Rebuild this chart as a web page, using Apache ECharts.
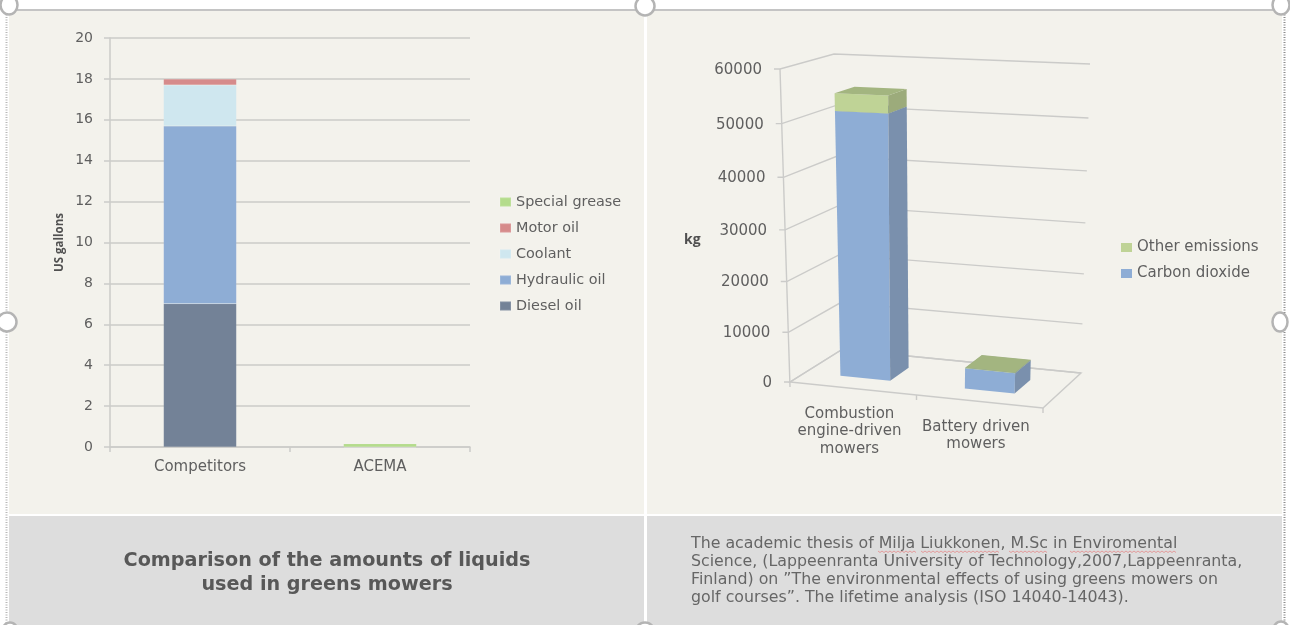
<!DOCTYPE html>
<html>
<head>
<meta charset="utf-8">
<script src="https://cdn.jsdelivr.net/npm/echarts@6/dist/echarts.min.js"></script>
<style>
html, body { margin: 0; padding: 0; background: #fff; }
#chart { width: 1290px; height: 625px; }
</style>
</head>
<body>
<div id="chart"></div>
<script>
// left chart data
const liquidCategories = ["Competitors", "ACEMA"];
const dieselOil = [7, 0];
const hydraulicOil = [8.7, 0];
const coolant = [2, 0];
const motorOil = [0.3, 0];
const specialGrease = [0, 0.16];

// right chart data
const mowerCategories = ["Combustion\nengine-driven\nmowers", "Battery driven\nmowers"];
const carbonDioxide = [51700, 4000];
const otherEmissions = [3300, 100];
const emissionTicks = [0, 10000, 20000, 30000, 40000, 50000, 60000];

const titleLines = "Comparison of the amounts of liquids\nused in greens mowers";
const sourceLines = "The academic thesis of Milja Liukkonen, M.Sc in Enviromental\n" +
    "Science, (Lappeenranta University of Technology,2007,Lappeenranta,\n" +
    "Finland) on \u201dThe environmental effects of using greens mowers on\n" +
    "golf courses\u201d. The lifetime analysis (ISO 14040-14043).";

const textColor = "#5f5f5f";
const gridColor = "#cbcbc9";
const labelFont = "DejaVu Sans";

// corners of the 3d box on the page, [front, back] x [left, right]
const box = {
    f0: [790, 382], f1: [1043, 408], b0: [842, 349.5], b1: [1081, 373],
    f0t: [780, 69], f1t: [1056, 80], b0t: [834, 54], b1t: [1090, 64]
};
const mix = (a, b, t) => [a[0] + (b[0] - a[0]) * t, a[1] + (b[1] - a[1]) * t];

// u across, d into the wall, f up the value axis (all 0..1)
const project = (u, d, f) => {
    const h = f / (1 + 0.058 * (1 - f));
    const low = mix(mix(box.f0, box.f1, u), mix(box.b0, box.b1, u), d);
    const high = mix(mix(box.f0t, box.f1t, u), mix(box.b0t, box.b1t, u), d);
    return mix(low, high, h);
};
// takes the pixel the cartesian axes give and lifts it into the box
const toBox = (params, api, cat, val, d, shiftU) => {
    const p = api.coord([cat, val]);
    const r = params.coordSys;
    return project((p[0] - r.x) / r.width + (shiftU || 0), d, (r.y + r.height - p[1]) / r.height);
};
const line = (points, width) => ({
    type: "polyline",
    shape: { points },
    style: { stroke: gridColor, lineWidth: width || 1.4, fill: null }
});

const renderWall = (params, api) => {
    const v = api.value(1);
    const a = toBox(params, api, 0, v, 0, -0.25);
    const b = toBox(params, api, 0, v, 1, -0.25);
    const c = toBox(params, api, 1, v, 1, 0.25);
    return {
        type: "group",
        children: [
            line([[a[0] - 6, a[1]], a, b, c]),
            {
                type: "text",
                style: {
                    text: String(v), x: a[0] - 18, y: a[1] + 1, align: "right", verticalAlign: "middle",
                    font: "15px " + labelFont, fill: textColor
                }
            }
        ]
    };
};

const renderFloor = (params, api) => {
    const f0 = toBox(params, api, 0, 0, 0, -0.25);
    const f1 = toBox(params, api, 1, 0, 0, 0.25);
    const b0 = toBox(params, api, 0, 0, 1, -0.25);
    const b1 = toBox(params, api, 1, 0, 1, 0.25);
    const top = toBox(params, api, 0, 60000, 0, -0.25);
    const mid = toBox(params, api, 0, 0, 0, 0.25);
    return {
        type: "group",
        children: [
            line([top, [f0[0], f0[1] + 5]]),
            line([b0, f0, f1, b1, b0]),
            line([mid, [mid[0], mid[1] + 5]]),
            line([f1, [f1[0], f1[1] + 5]])
        ]
    };
};

const renderMowerLabel = (params, api) => {
    const i = api.value(0);
    const p = toBox(params, api, i, 0, 0, -0.015);
    return {
        type: "text",
        style: {
            text: mowerCategories[i], x: p[0], y: p[1] + 17, align: "center", verticalAlign: "top",
            font: "15px " + labelFont, lineHeight: 17.5, fill: textColor
        }
    };
};

const polygon = (points, fill) => ({ type: "polygon", shape: { points }, style: { fill } });

const renderBlock = (front, side, top) => (params, api) => {
    const i = api.value(0);
    const from = api.value(1);
    const to = api.value(2);
    const half = 0.1, d0 = 0.3, d1 = 0.69, shift = -0.01;
    const at = (s, v, d) => toBox(params, api, i, v, d, shift + s * half);
    return {
        type: "group",
        children: [
            polygon([at(-1, from, d0), at(1, from, d0), at(1, to, d0), at(-1, to, d0)], front),
            polygon([at(1, from, d0), at(1, from, d1), at(1, to, d1), at(1, to, d0)], side),
            polygon([at(-1, to, d0), at(1, to, d0), at(1, to, d1), at(-1, to, d1)], top)
        ]
    };
};

const stackBar = (name, data, color) => ({
    name,
    type: "bar",
    stack: "liquids",
    barWidth: 73,
    data,
    itemStyle: { color, borderColor: "rgba(255,255,255,0.12)", borderWidth: 0.5 }
});

// little red spell-check waves under the text
const wave = (x0, x1, y) => {
    const points = [];
    for (let x = x0, n = 0; x <= x1; x += 2, n++) {
        points.push([x, y + (n % 2 ? 1.5 : 0)]);
    }
    return {
        type: "polyline",
        shape: { points },
        style: { stroke: "#e58a8a", lineWidth: 0.8, fill: null },
        z: 5
    };
};
// selection handles of the picture frame
const handle = (x, y, rx, ry) => ({
    type: "ellipse",
    shape: { cx: x, cy: y, rx, ry },
    style: { fill: "#fff", stroke: "#b4b4b4", lineWidth: 2.5 },
    z: 20
});
const dotted = (x, color) => ({
    type: "line",
    shape: { x1: x, y1: 12, x2: x, y2: 625 },
    style: { stroke: color, lineWidth: 2, lineDash: [1, 1.5] },
    z: 10
});
const panel = (x, y, width, height, fill) => ({
    type: "rect",
    shape: { x, y, width, height },
    style: { fill },
    z: -10
});

const chart = echarts.init(document.getElementById("chart"));
chart.setOption({
    animation: false,
    backgroundColor: "#fff",
    title: [
        {
            text: titleLines,
            left: 327,
            top: 549,
            padding: 0,
            textAlign: "center",
            textStyle: { fontFamily: labelFont, fontWeight: "bold", fontSize: 19.2, lineHeight: 24, color: "#585858" }
        },
        {
            text: sourceLines,
            left: 691,
            top: 535,
            padding: 0,
            textStyle: { fontFamily: labelFont, fontWeight: "normal", fontSize: 15.8, lineHeight: 18, color: "#666" }
        }
    ],
    legend: [
        {
            data: ["Special grease", "Motor oil", "Coolant", "Hydraulic oil", "Diesel oil"],
            orient: "vertical",
            left: 499,
            top: 195,
            padding: 0,
            itemWidth: 11,
            itemHeight: 9,
            itemGap: 12,
            icon: "rect",
            selectedMode: false,
            textStyle: { fontFamily: labelFont, fontSize: 14.4, color: textColor }
        },
        {
            data: ["Other emissions", "Carbon dioxide"],
            orient: "vertical",
            left: 1121,
            top: 240,
            padding: 0,
            itemWidth: 11,
            itemHeight: 9,
            itemGap: 11,
            icon: "rect",
            selectedMode: false,
            textStyle: { fontFamily: labelFont, fontSize: 15, color: textColor }
        }
    ],
    grid: [
        { left: 110, top: 38, width: 360, height: 409 },
        { left: 790, top: 69, width: 253, height: 313 }
    ],
    xAxis: [
        {
            type: "category",
            data: liquidCategories,
            axisLine: { lineStyle: { color: gridColor, width: 1.5 } },
            axisTick: { show: true, length: 5, lineStyle: { color: gridColor, width: 1.5 } },
            axisLabel: { fontFamily: labelFont, fontSize: 15, color: textColor, margin: 13 }
        },
        { type: "category", gridIndex: 1, data: mowerCategories, show: false }
    ],
    yAxis: [
        {
            type: "value",
            min: 0,
            max: 20,
            interval: 2,
            name: "US gallons",
            nameLocation: "middle",
            nameGap: 44,
            nameTextStyle: { fontFamily: "Open Sans", fontWeight: "bold", fontSize: 11.5, color: "#505050" },
            axisLine: { show: true, lineStyle: { color: gridColor, width: 1.5 } },
            axisTick: { show: true, length: 6, lineStyle: { color: gridColor, width: 1.5 } },
            splitLine: { lineStyle: { color: gridColor, width: 1.5 } },
            axisLabel: { fontFamily: labelFont, fontSize: 14, color: textColor, margin: 17 }
        },
        { type: "value", gridIndex: 1, min: 0, max: 60000, interval: 10000, show: false }
    ],
    graphic: [
        panel(0, 0, 1290, 625, "#fff"),
        panel(9, 11, 635, 503, "#f3f2ec"),
        panel(647, 11, 635, 503, "#f3f2ec"),
        panel(9, 516, 635, 109, "#dddddd"),
        panel(647, 516, 635, 109, "#dddddd"),
        panel(8, 9, 1275, 2, "#c4c4c4"),
        dotted(6.5, "#b8b8b8"),
        dotted(1284.5, "#8c8c8c"),
        { type: "text", style: { text: "kg", x: 684, y: 233, font: "bold 14px 'Open Sans'", fill: "#505050" } },
        wave(878, 917, 551),
        wave(921, 1000, 551),
        wave(1009, 1047, 551),
        wave(1070, 1176, 551),
        handle(645, 6, 9.5, 9.5),
        handle(1281, 5, 8.5, 9.5),
        handle(9, 5, 8.5, 9.5),
        handle(7, 322, 9.5, 9.5),
        handle(1280, 322, 7.5, 9.5),
        handle(645, 632, 9.5, 9.5),
        handle(1281, 631, 8, 9.5),
        handle(10, 632, 8, 9.5)
    ],
    series: [
        stackBar("Diesel oil", dieselOil, "#738297"),
        stackBar("Hydraulic oil", hydraulicOil, "#8eadd5"),
        stackBar("Coolant", coolant, "#cfe7ef"),
        stackBar("Motor oil", motorOil, "#d68b8b"),
        stackBar("Special grease", specialGrease, "#b4dc8c"),
        {
            name: "wall",
            type: "custom",
            xAxisIndex: 1,
            yAxisIndex: 1,
            z: 1,
            renderItem: renderWall,
            data: emissionTicks.map(v => [0, v])
        },
        {
            name: "floor",
            type: "custom",
            xAxisIndex: 1,
            yAxisIndex: 1,
            z: 1,
            renderItem: renderFloor,
            data: [[0, 0]]
        },
        {
            name: "mower labels",
            type: "custom",
            xAxisIndex: 1,
            yAxisIndex: 1,
            z: 1,
            renderItem: renderMowerLabel,
            data: mowerCategories.map((c, i) => [i, 0])
        },
        {
            name: "Carbon dioxide",
            type: "custom",
            xAxisIndex: 1,
            yAxisIndex: 1,
            z: 3,
            itemStyle: { color: "#8eadd5" },
            renderItem: renderBlock("#8eadd5", "#7a90ad", "#7a90ad"),
            encode: { x: 0, y: 2 },
            data: carbonDioxide.map((v, i) => [i, 0, v])
        },
        {
            name: "Other emissions",
            type: "custom",
            xAxisIndex: 1,
            yAxisIndex: 1,
            z: 4,
            itemStyle: { color: "#bfd396" },
            renderItem: renderBlock("#bfd396", "#9cab7b", "#a3b580"),
            encode: { x: 0, y: 2 },
            data: otherEmissions.map((v, i) => [i, carbonDioxide[i], carbonDioxide[i] + v])
        }
    ]
});
</script>
</body>
</html>
